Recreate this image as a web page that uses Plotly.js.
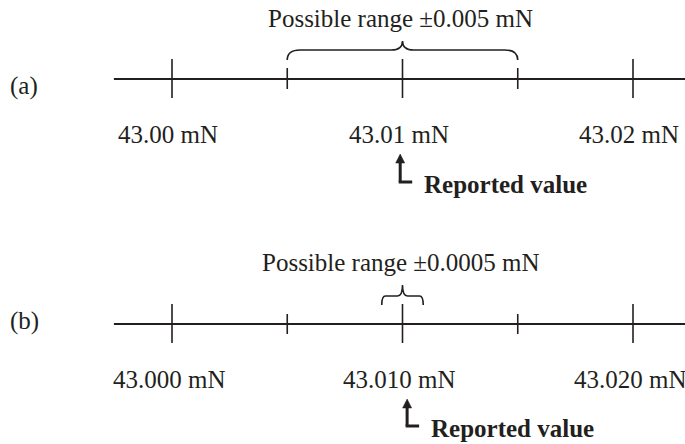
<!DOCTYPE html>
<html>
<head>
<meta charset="utf-8">
<script src="https://cdn.plot.ly/plotly-3.0.1.min.js"></script>
<style>html,body{margin:0;padding:0;background:#fff;}#chart{width:685px;height:444px;}</style>
</head>
<body>
<div id="chart"></div>
<script>
// ---- data ----
const panelLabels = ['(a)', '(b)'];
const majorTicks = [43.00, 43.01, 43.02];
const minorTicks = [43.005, 43.015];
const tickLabelsA = ['43.00 mN', '43.01 mN', '43.02 mN'];
const tickLabelsB = ['43.000 mN', '43.010 mN', '43.020 mN'];
const rangeLabels = ['Possible range \u00b10.005 mN', 'Possible range \u00b10.0005 mN'];
const braceA = [43.005, 43.015];
const braceB = [43.0091, 43.0109];
const braceCenters = [43.01, 43.01];
const reportedX = [43.0099, 43.0102];
const reportedText = 'Reported value';
const lineStart = 42.99748;
const lineEnd = 43.0223;

// ---- layout constants (pixel rows; y axis is in pixels) ----
const INK = '#231f20';
const FONT = 'Liberation Serif, Times New Roman, serif';
const panels = [
  {lineY: 79, majTop: 59, majBot: 98, minTop: 68, minBot: 89, bBot: 60, bMid: 50, bTop: 41,
   titleY: 18, labelY: 134, panelY: 86, tipY: 154, footY: 182, repY: 184,
   labels: tickLabelsA, brace: braceA, r: 0.00056, c: 0.00048, labShift: -4},
  {lineY: 324, majTop: 304, majBot: 343, minTop: 314, minBot: 334, bBot: 305, bMid: 296, bTop: 285,
   titleY: 262, labelY: 379, panelY: 321, tipY: 399, footY: 426, repY: 428,
   labels: tickLabelsB, brace: braceB, r: 0.00016, c: 0.00022, labShift: -3}
];
const pxPerUnit = 23050;
const u = px => px / pxPerUnit;

const shapes = [];
const annotations = [];

panels.forEach((p, i) => {
  // main line
  shapes.push({type: 'line', xref: 'x', yref: 'y', x0: lineStart, x1: lineEnd, y0: p.lineY, y1: p.lineY,
    line: {color: INK, width: 2}});
  majorTicks.forEach(v => shapes.push({type: 'line', xref: 'x', yref: 'y', x0: v, x1: v, y0: p.majTop, y1: p.majBot,
    line: {color: INK, width: 1.6}}));
  minorTicks.forEach(v => shapes.push({type: 'line', xref: 'x', yref: 'y', x0: v, x1: v, y0: p.minTop, y1: p.minBot,
    line: {color: INK, width: 1.6}}));
  // brace
  const x1 = p.brace[0], x2 = p.brace[1], xc = braceCenters[i];
  const path = `M ${x1},${p.bBot} Q ${x1},${p.bMid} ${x1 + p.r},${p.bMid} L ${xc - p.c},${p.bMid} ` +
    `Q ${xc},${p.bMid} ${xc},${p.bTop} Q ${xc},${p.bMid} ${xc + p.c},${p.bMid} ` +
    `L ${x2 - p.r},${p.bMid} Q ${x2},${p.bMid} ${x2},${p.bBot}`;
  shapes.push({type: 'path', xref: 'x', yref: 'y', path: path, line: {color: INK, width: 1.6}});
  // arrow
  const ax = reportedX[i];
  shapes.push({type: 'line', xref: 'x', yref: 'y', x0: ax, x1: ax, y0: p.tipY + 6, y1: p.footY,
    line: {color: INK, width: 3}});
  shapes.push({type: 'line', xref: 'x', yref: 'y', x0: ax - u(1.5), x1: ax + u(12), y0: p.footY, y1: p.footY,
    line: {color: INK, width: 3}});
  shapes.push({type: 'path', xref: 'x', yref: 'y',
    path: `M ${ax},${p.tipY} L ${ax + u(4.5)},${p.tipY + 9} L ${ax - u(4.5)},${p.tipY + 9} Z`,
    fillcolor: INK, line: {color: INK, width: 0.5}});

  // texts
  annotations.push({xref: 'x', yref: 'y', x: xc, y: p.titleY, xshift: -2, text: rangeLabels[i], showarrow: false,
    xanchor: 'center', yanchor: 'middle', font: {family: FONT, size: 25, color: INK}});
  majorTicks.forEach((v, k) => annotations.push({xref: 'x', yref: 'y', x: v, y: p.labelY, xshift: p.labShift,
    text: p.labels[k], showarrow: false, xanchor: 'center', yanchor: 'middle',
    font: {family: FONT, size: 25, color: INK}}));
  annotations.push({xref: 'paper', yref: 'y', x: 8 / 685, y: p.panelY, text: panelLabels[i], showarrow: false,
    xanchor: 'left', yanchor: 'middle', font: {family: FONT, size: 25, color: INK}});
  annotations.push({xref: 'x', yref: 'y', x: ax + u(22), y: p.repY, text: '<b>' + reportedText + '</b>',
    showarrow: false, xanchor: 'left', yanchor: 'middle', font: {family: FONT, size: 25, color: INK}});
});

const xLeft = 43.00 - u(172);
const xRight = 43.00 + u(513);

Plotly.newPlot('chart', [{x: [], y: [], type: 'scatter', mode: 'lines', hoverinfo: 'skip', showlegend: false}], {
  width: 685, height: 444,
  margin: {l: 0, r: 0, t: 0, b: 0, pad: 0},
  paper_bgcolor: '#fff', plot_bgcolor: '#fff',
  xaxis: {range: [xLeft, xRight], visible: false, showgrid: false, zeroline: false, fixedrange: true},
  yaxis: {range: [444, 0], visible: false, showgrid: false, zeroline: false, fixedrange: true},
  showlegend: false,
  shapes: shapes,
  annotations: annotations
}, {displayModeBar: false, staticPlot: true});
</script>
</body>
</html>
